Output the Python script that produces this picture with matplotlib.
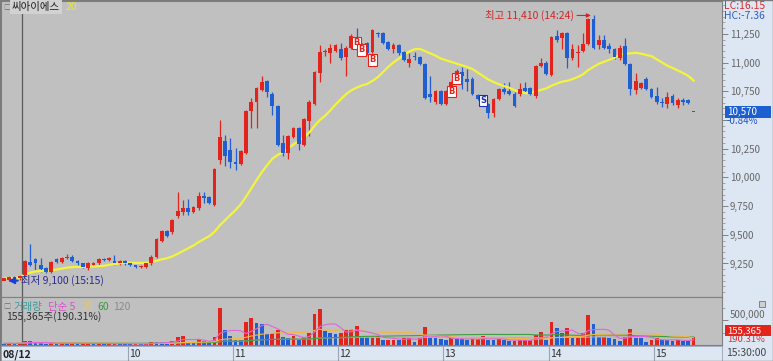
import matplotlib.pyplot as plt
from matplotlib.patches import Rectangle
from matplotlib.transforms import blended_transform_factory
import numpy as np
import pandas as pd

plt.rcParams['font.family'] = ['Noto Sans CJK KR', 'DejaVu Sans']

# 20-minute candles: tail of 08/12, then the sessions up to today (15)
opens = [9100, 9110, 9130, 9120, 9150, 9260, 9290, 9240, 9210, 9180,
         9290, 9260, 9300, 9310, 9270, 9250, 9210, 9240, 9250, 9290,
         9280, 9270, 9250, 9270, 9250, 9240, 9220, 9220, 9250, 9310,
         9450, 9530, 9520, 9660, 9700, 9730, 9700, 9730, 9840, 9830,
         9760, 10150, 10320, 10240, 10130, 10120, 10210, 10580, 10660, 10760,
         10840, 10730, 10620, 10300, 10210, 10350, 10430, 10280, 10490, 10640,
         10910, 11090, 11080, 11100, 11120, 11050, 11130, 11210, 11080, 11170,
         11090, 11260, 11260, 11180, 11120, 11150, 11090, 11000, 11060, 11050,
         10990, 10730, 10660, 10750, 10640, 10760, 10830, 10920, 10860, 10860,
         10720, 10690, 10640, 10560, 10680, 10770, 10750, 10730, 10730, 10780,
         10780, 10710, 10970, 11000, 10890, 11230, 11210, 11260, 11040, 11080,
         11100, 11160, 11380, 11150, 11200, 11140, 11120, 11040, 11140, 10990,
         10760, 10780, 10860, 10770, 10710, 10660, 10640, 10710, 10630, 10670,
         10670, 10570]
highs = [9130, 9140, 9140, 9150, 9280, 9420, 9300, 9300, 9220, 9270,
         9300, 9310, 9330, 9320, 9280, 9250, 9260, 9260, 9300, 9300,
         9310, 9320, 9280, 9280, 9250, 9240, 9240, 9260, 9320, 9470,
         9540, 9540, 9640, 9870, 9800, 9810, 9750, 9870, 9870, 9840,
         10080, 10500, 10370, 10340, 10260, 10240, 10590, 10690, 10790, 10880,
         10850, 10740, 10630, 10370, 10370, 10440, 10440, 10520, 10670, 10930,
         11150, 11120, 11160, 11160, 11170, 11140, 11250, 11300, 11170, 11180,
         11290, 11270, 11270, 11190, 11170, 11160, 11100, 11080, 11090, 11060,
         11000, 10880, 10760, 10760, 10760, 10840, 10940, 10960, 10940, 10870,
         10730, 10700, 10650, 10690, 10780, 10820, 10830, 10740, 10820, 10830,
         10790, 10980, 11040, 11010, 11230, 11280, 11270, 11270, 11160, 11150,
         11260, 11390, 11410, 11240, 11240, 11170, 11130, 11150, 11210, 11000,
         10910, 10830, 10870, 10780, 10790, 10690, 10740, 10730, 10690, 10690,
         10680, 10570]
lows = [9110, 9100, 9110, 9110, 9140, 9230, 9190, 9180, 9170, 9170,
        9250, 9250, 9290, 9260, 9240, 9210, 9190, 9230, 9240, 9270,
        9270, 9240, 9240, 9240, 9230, 9210, 9210, 9210, 9240, 9300,
        9440, 9480, 9510, 9650, 9670, 9670, 9690, 9720, 9780, 9770,
        9750, 10120, 10100, 10080, 10060, 10110, 10200, 10430, 10430, 10750,
        10700, 10540, 10270, 10190, 10160, 10340, 10240, 10270, 10360, 10630,
        10830, 11060, 11000, 11090, 11020, 10880, 11120, 11120, 11070, 11070,
        11080, 11220, 11160, 11110, 11080, 11070, 11010, 10960, 11020, 10980,
        10680, 10660, 10640, 10630, 10630, 10750, 10820, 10770, 10750, 10720,
        10670, 10630, 10520, 10530, 10670, 10730, 10720, 10610, 10710, 10740,
        10720, 10690, 10960, 10890, 10880, 11180, 11120, 10950, 11020, 10960,
        11090, 11150, 11120, 11120, 11120, 11080, 11030, 11020, 10980, 10720,
        10730, 10770, 10760, 10690, 10640, 10610, 10600, 10630, 10600, 10630,
        10640, 10570]
closes = [9120, 9130, 9120, 9140, 9270, 9240, 9250, 9200, 9180, 9260,
          9260, 9300, 9310, 9270, 9250, 9220, 9250, 9250, 9290, 9280,
          9300, 9250, 9270, 9250, 9240, 9220, 9230, 9250, 9310, 9460,
          9530, 9490, 9630, 9710, 9730, 9700, 9740, 9840, 9820, 9780,
          10070, 10350, 10190, 10130, 10120, 10230, 10580, 10660, 10780, 10830,
          10740, 10620, 10280, 10210, 10360, 10430, 10290, 10510, 10660, 10920,
          11090, 11100, 11130, 11150, 11040, 11130, 11230, 11130, 11160, 11080,
          11280, 11250, 11170, 11120, 11150, 11080, 11020, 11030, 11050, 10990,
          10690, 10700, 10750, 10640, 10750, 10830, 10930, 10880, 10830, 10730,
          10680, 10640, 10560, 10680, 10770, 10740, 10730, 10620, 10770, 10750,
          10730, 10970, 11000, 10900, 11220, 11200, 11260, 11040, 11120, 11090,
          11160, 11380, 11130, 11200, 11130, 11120, 11050, 11130, 10990, 10770,
          10840, 10820, 10770, 10700, 10660, 10650, 10700, 10650, 10670, 10660,
          10650, 10570]
volumes = [30000, 35000, 25000, 40000, 80000, 75000, 40000, 35000, 30000, 40000,
           30000, 35000, 25000, 30000, 28000, 30000, 35000, 25000, 35000, 20000,
           25000, 30000, 28000, 25000, 20000, 22000, 18000, 30000, 60000, 53000,
           52000, 50000, 87000, 167000, 187000, 53000, 50000, 113000, 87000, 67000,
           153000, 733000, 300000, 180000, 100000, 95000, 467000, 533000, 433000, 425000,
           213000, 247000, 300000, 153000, 150000, 187000, 100000, 153000, 247000, 620000,
           720000, 287000, 233000, 230000, 247000, 300000, 313000, 380000, 167000, 153000,
           167000, 187000, 100000, 105000, 110000, 95000, 153000, 155000, 67000, 133000,
           367000, 167000, 133000, 120000, 100000, 153000, 133000, 113000, 100000, 113000,
           115000, 187000, 100000, 98000, 113000, 100000, 87000, 90000, 92000, 94000,
           100000, 200000, 267000, 100000, 453000, 333000, 233000, 333000, 133000, 135000,
           247000, 600000, 420000, 153000, 155000, 133000, 130000, 87000, 167000, 327000,
           147000, 133000, 67000, 100000, 133000, 100000, 98000, 87000, 100000, 87000,
           81640, 155365]

day_labels = ['08/12', '10', '11', '12', '13', '14', '15']
day_starts = [0, 24, 44, 64, 84, 104, 124]
session_line = 4
price_ticks = [9250, 9500, 9750, 10000, 10250, 10500, 10750, 11000, 11250]
signal_idx = [67, 68, 70, 85, 86, 91]
signal_px = [11172, 11111, 11024, 10747, 10859, 10668]
signal_kind = ['B', 'B', 'B', 'B', 'B', 'S']
high_time = '14:24'
low_time = '15:15'
change_pct = '-0.84%'
vol_change = '190.31%'

RED = '#e3241d'
BLUE = '#1f5fd2'
BG = '#c0c0c0'
PANEL = '#dde7f3'

W, H = 773, 361


def fx(x):
    return x / W


def fy(y):
    return 1 - y / H


fig = plt.figure(figsize=(W / 100, H / 100), dpi=100)
fig.patch.set_facecolor(PANEL)

ax_p = fig.add_axes([fx(1), fy(297), fx(721), 296 / H])
ax_v = fig.add_axes([fx(1), fy(345), fx(721), 48 / H])
ax_x = fig.add_axes([fx(1), 0, fx(721), 15 / H])

o = np.array(opens)
h = np.array(highs)
l = np.array(lows)
c = np.array(closes)
v = np.array(volumes)
idx = np.arange(len(c))
xlim = (-0.55, 136.4)

prev_c = np.r_[c[0], c[:-1]]
up = (c > o) | ((c == o) & (c >= prev_c))
col = np.where(up, RED, BLUE)

# price panel
ax_p.set_facecolor(BG)
ax_p.vlines(idx, l, h, colors=col, lw=0.9, zorder=2)
ax_p.bar(idx, np.maximum(np.abs(c - o), 9), bottom=np.minimum(o, c),
         width=0.72, color=col, lw=0, zorder=3)
ma20 = pd.Series(c).rolling(20, min_periods=1).mean()
ax_p.plot(idx, ma20, color='#f4f43c', lw=1.6, zorder=2.5)
ax_p.axvline(session_line - 0.5, color='#5a5a5a', lw=0.9, zorder=1)

for i, p, k in zip(signal_idx, signal_px, signal_kind):
    ec = RED if k == 'B' else '#2030b0'
    ax_p.text(i, p, k, ha='center', va='center', fontsize=6, color=ec,
              family='DejaVu Sans', fontweight='bold', zorder=5,
              bbox=dict(boxstyle='square,pad=0.15', fc='white', ec=ec, lw=0.8))

hi = int(np.argmax(h))
ax_p.annotate(f'최고 {h[hi]:,} ({high_time})', xy=(hi - 0.5, h[hi]),
              xytext=(-12, 0), textcoords='offset points', ha='right', va='center',
              color='#d42525', fontsize=7.5, zorder=6,
              arrowprops=dict(arrowstyle='-|>', color='#d42525', lw=0.8,
                              shrinkA=0, shrinkB=0, mutation_scale=6))
lo = int(np.argmin(l))
ax_p.annotate(f'최저 {l[lo]:,} ({low_time})', xy=(lo - 0.2, l[lo]),
              xytext=(9, 0), textcoords='offset points', ha='left', va='center',
              color='#2a2a8c', fontsize=7.5, zorder=6,
              arrowprops=dict(arrowstyle='-|>', color='#1a3fd8', lw=1.4,
                              shrinkA=0, shrinkB=0, mutation_scale=9))

ax_p.set_xlim(*xlim)
ax_p.set_ylim(8958, 11536)
ax_p.set_xticks([])
ax_p.yaxis.tick_right()
ax_p.set_yticks(price_ticks)
ax_p.set_yticklabels(['' if t == 10500 else f'{t:,}' for t in price_ticks])
ax_p.set_yticks(np.arange(9000, 11550, 50), minor=True)
ax_p.tick_params(axis='y', which='major', direction='out', length=4, width=0.6,
                 color='#707070', labelsize=7, labelcolor='#666666', pad=1.5)
ax_p.tick_params(axis='y', which='minor', direction='out', length=2, width=0.5,
                 color='#8a8a8a')
for s in ax_p.spines.values():
    s.set_color('#808080')
    s.set_linewidth(0.8)

# last price tag
tr = blended_transform_factory(fig.transFigure, ax_p.transData)
ax_p.add_patch(Rectangle((fx(725), c[-1] - 52), fx(46), 104, transform=tr,
                         fc='#1d5fd0', ec='none', clip_on=False, zorder=6))
ax_p.text(fx(727), c[-1], f'{c[-1]:,}', transform=tr, color='white', fontsize=7,
          va='center', ha='left', zorder=7, clip_on=False)
ax_p.text(fx(727), c[-1] - 80, change_pct, transform=tr, color='#2055c8', fontsize=7,
          va='center', ha='left', zorder=7, clip_on=False)

# volume panel
vcol = np.where(np.r_[False, v[1:] > v[:-1]], RED, BLUE)
ax_v.set_facecolor(BG)
ax_v.bar(idx, v, width=0.72, color=vcol, lw=0, zorder=2)
vs = pd.Series(v, dtype=float)
for n, mc in [(120, '#b0b0b0'), (60, '#3f9f3f'), (20, '#f0b848'), (5, '#e066d8')]:
    ax_v.plot(idx, vs.rolling(n, min_periods=1).mean(), color=mc, lw=0.8, zorder=3)
ax_v.axvline(session_line - 0.5, color='#5a5a5a', lw=0.9, zorder=1)
ax_v.set_xlim(*xlim)
ax_v.set_ylim(0, 960000)
ax_v.set_xticks([])
ax_v.yaxis.tick_right()
ax_v.set_yticks([500000])
ax_v.set_yticklabels(['500,000'])
ax_v.set_yticks([250000, 750000], minor=True)
ax_v.tick_params(axis='y', which='major', direction='out', length=4, width=0.6,
                 color='#707070', labelsize=7, labelcolor='#666666', pad=1.5)
ax_v.tick_params(axis='y', which='minor', direction='out', length=2, width=0.5,
                 color='#8a8a8a')
for lab in ax_v.get_yticklabels():
    lab.set_verticalalignment('bottom')
for s in ax_v.spines.values():
    s.set_color('#808080')
    s.set_linewidth(0.8)

# time axis bar
ax_x.set_facecolor(PANEL)
ax_x.set_xlim(*xlim)
ax_x.set_ylim(0, 1)
ax_x.set_xticks([])
ax_x.set_yticks([])
for s in ax_x.spines.values():
    s.set_color('#9aa4b4')
    s.set_linewidth(0.6)
for k, (lab, d) in enumerate(zip(day_labels, day_starts)):
    if k == 0:
        ax_x.text(xlim[0] + 0.3, 0.45, lab, fontsize=7.5, color='#222222',
                  fontweight='bold', va='center', ha='left')
    else:
        ax_x.axvline(d - 0.5, color='#9aa4b4', lw=0.8)
        ax_x.text(d - 0.3, 0.45, lab, fontsize=7.5, color='#333333',
                  va='center', ha='left')

# header texts
fig.text(fx(3), fy(8), '□', fontsize=5, color='#707070', va='center')
fig.text(fx(12), fy(7), '씨아이에스', fontsize=7.5, color='#1a1a1a', va='center',
         bbox=dict(boxstyle='square,pad=0.15', fc='#d2d2d2', ec='none'))
fig.text(fx(66), fy(7), '20', fontsize=7.5, color='#e8e830', va='center')

fig.text(fx(3), fy(307), '□', fontsize=5, color='#707070', va='center')
vx = [(13, '거래량', '#3a9c9c'), (48, '단순 5', '#d452c8'), (82, '20', '#e8c860'),
      (97, '60', '#3a9a3a'), (113, '120', '#8a8a8a')]
for x0, t, tc in vx:
    fig.text(fx(x0), fy(307), t, fontsize=7.5, color=tc, va='center')
fig.text(fx(6), fy(317), f'{v[-1]:,}주({vol_change})', fontsize=7.5,
         color='#333333', va='center')

fig.text(fx(724), fy(6), 'LC:16.15', fontsize=7.5, color='#d43030', va='center')
fig.text(fx(724), fy(16), 'HC:-7.36', fontsize=7.5, color='#3060c0', va='center')

fig.add_artist(Rectangle((fx(725), fy(336)), fx(46), 11 / H, transform=fig.transFigure,
                         fc='#e3241d', ec='none'))
fig.text(fx(727), fy(330.5), f'{v[-1]:,}', fontsize=6.8, color='white', va='center')
fig.text(fx(727), fy(340), vol_change, fontsize=6.8, color='#d43030', va='center')
fig.add_artist(Rectangle((fx(759), fy(307)), fx(6), 6 / H, transform=fig.transFigure,
                         fc='#d0d0d0', ec='#606060', lw=0.5))
fig.text(fx(726), fy(353), '15:30:00', fontsize=7.5, color='#444444', va='center')

fig.add_artist(Rectangle((0, 0), 1, 1, transform=fig.transFigure, fill=False,
                         ec='#7a7a7a', lw=1))

fig.savefig('out.png', dpi=100, facecolor=fig.get_facecolor())
